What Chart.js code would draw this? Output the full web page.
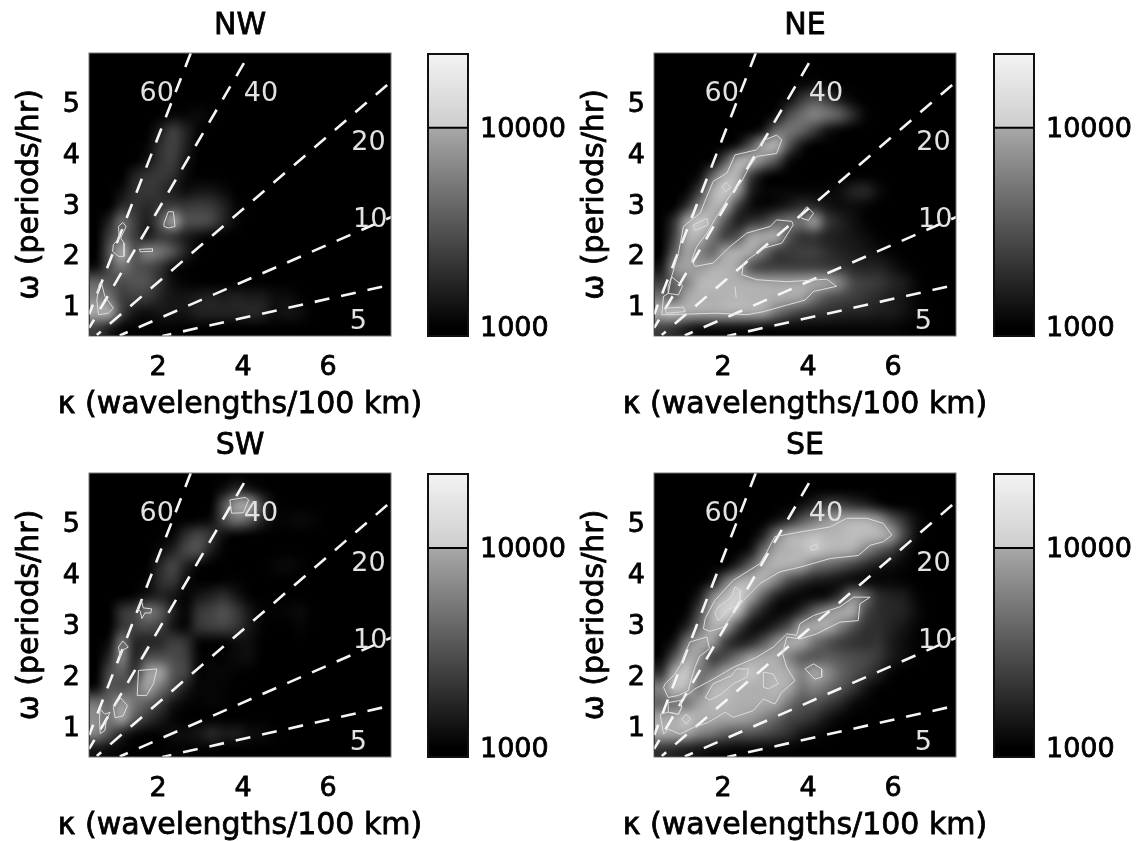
<!DOCTYPE html>
<html><head><meta charset="utf-8">
<script src="https://cdn.jsdelivr.net/npm/chart.js@4"></script>
<style>
html,body{margin:0;padding:0;background:#fff;overflow:hidden;width:1136px;height:841px}
canvas{position:absolute;filter:blur(0.55px)}
</style></head><body>
<canvas id="pNW" width="420" height="420" style="left:0;top:0"></canvas>
<canvas id="cNW" width="150" height="420" style="left:420px;top:0"></canvas>
<canvas id="pNE" width="420" height="420" style="left:565px;top:0"></canvas>
<canvas id="cNE" width="150" height="420" style="left:986px;top:0"></canvas>
<canvas id="pSW" width="420" height="421" style="left:0;top:420px"></canvas>
<canvas id="cSW" width="150" height="421" style="left:420px;top:420px"></canvas>
<canvas id="pSE" width="420" height="421" style="left:565px;top:420px"></canvas>
<canvas id="cSE" width="150" height="421" style="left:986px;top:420px"></canvas>
<script>
const kappaTicks=[2,4,6];
const omegaTicks=[1,2,3,4,5];
const kappaRange=[0.376,7.48];
const omegaRange=[0.39,5.97];
const colorTicks=[1000,10000];
const colorRange=[900,23500];
const xTitle='κ (wavelengths/100 km)';
const yTitle='ω (periods/hr)';
const raySpeeds=['60','40','20','10','5'];
const rayUpper=[[2.77,5.97],[4.02,5.77],[7.39,5.34],[7.69,2.81],[7.27,1.36]];
const rayLower=[[0.38,0.82],[0.38,0.55],[0.56,0.41],[1.1,0.4],[2.1,0.39]];
const rayLabelPos=[[1.97,5.17],[4.42,5.17],[6.95,4.19],[6.99,2.67],[6.71,0.67]];
/* grid: rows top (omega 5.95) to bottom (omega 0.55), columns kappa 0.55 ... 7.45, values in hundreds */
const gridKappaLeft=0.4, gridOmegaTop=6.1, gridCell=0.3;
const nwValues=[
[10,10,10,10,10,10,10,10,10,10,10,10,10,10,10,10,10,10,10,10,10,10,10,10],
[10,10,10,10,10,10,10,10,10,10,10,10,10,10,10,10,10,10,10,10,10,10,10,10],
[10,10,10,10,10,10,10,10,10,10,10,10,10,10,10,10,10,10,10,10,10,10,10,10],
[10,10,10,10,10,10,10,10,10,10,10,10,10,10,10,10,10,10,10,10,10,10,10,10],
[10,10,10,10,10,10,12,12,13,11,10,10,10,10,10,10,10,10,10,10,10,10,10,10],
[10,10,10,10,10,18,30,20,12,10,10,10,10,10,10,10,10,10,10,10,10,10,10,10],
[10,10,10,10,12,24,32,20,10,10,10,10,10,10,10,10,10,10,10,10,10,10,10,10],
[10,10,10,10,15,26,30,16,10,10,10,10,10,10,10,10,10,10,10,10,10,10,10,10],
[10,10,10,20,26,28,24,13,10,10,10,10,10,10,10,10,10,10,10,10,10,10,10,10],
[10,10,14,24,28,24,18,14,16,16,13,10,10,10,10,10,10,10,10,10,10,10,10,10],
[10,10,22,26,22,26,30,28,30,28,20,12,10,10,10,10,10,10,10,10,10,10,10,10],
[10,20,55,30,18,40,100,40,38,34,20,12,10,10,10,10,10,10,10,10,10,10,10,10],
[10,30,50,30,18,28,26,18,14,11,10,10,10,10,10,10,10,10,10,10,10,10,10,10],
[10,40,110,40,70,60,40,20,11,10,10,10,10,10,10,10,10,10,10,10,10,10,10,10],
[14,35,60,40,35,26,14,11,10,10,10,10,10,10,10,10,10,10,10,10,10,10,10,10],
[50,40,35,40,38,24,14,11,10,10,10,10,10,10,10,10,10,10,10,10,10,10,10,10],
[70,60,30,30,28,20,16,16,18,20,18,20,18,18,14,14,11,10,10,10,10,10,10,10],
[110,110,30,16,14,16,16,16,20,20,20,20,22,20,14,16,14,10,10,10,10,10,10,10],
[30,18,12,11,11,11,11,10,10,10,10,10,10,10,10,10,10,10,10,10,10,10,10,10]];
const neValues=[
[10,10,10,10,10,10,10,10,10,10,10,10,10,10,10,10,10,10,10,10,10,10,10,10],
[10,10,10,10,10,10,10,10,10,10,10,10,10,10,10,10,10,10,10,10,10,10,10,10],
[10,10,10,10,10,10,10,10,10,10,10,12,13,11,10,10,10,10,10,10,10,10,10,10],
[10,10,10,10,10,10,10,10,10,10,14,28,40,30,18,12,10,10,10,10,10,10,10,10],
[10,10,10,10,10,10,10,10,10,14,36,55,70,60,45,24,12,10,10,10,10,10,10,10],
[10,10,10,10,10,10,10,10,16,50,60,50,30,16,12,10,10,10,10,10,10,10,10,10],
[10,10,10,10,10,10,16,40,100,120,40,16,10,10,10,10,10,10,10,10,10,10,10,10],
[10,10,10,10,12,40,115,115,70,40,14,10,10,10,10,10,10,10,10,10,10,10,10,10],
[10,10,10,14,50,115,120,30,14,10,10,10,10,10,10,10,10,10,10,10,10,10,10,10],
[10,10,12,30,110,150,90,20,12,12,12,12,12,12,14,20,22,14,10,10,10,10,10,10],
[10,10,25,70,120,100,30,14,12,14,18,24,22,16,14,14,12,10,10,10,10,10,10,10],
[10,25,100,150,110,40,18,24,30,50,60,60,90,30,20,15,11,10,10,10,10,10,10,10],
[10,30,110,120,60,30,40,100,110,110,40,26,26,20,18,16,14,11,10,10,10,10,10,10],
[10,45,100,70,50,100,115,110,60,30,28,30,30,24,20,18,16,14,11,10,10,10,10,10],
[16,80,100,90,110,120,100,40,30,30,30,30,30,28,26,22,20,20,16,12,10,10,10,10],
[30,50,70,120,130,120,115,110,105,100,100,105,105,100,70,35,30,28,22,18,12,10,10,10],
[60,50,105,120,115,120,125,120,120,115,110,100,60,40,34,30,26,22,18,16,12,10,10,10],
[120,140,110,105,105,110,110,110,100,60,40,30,26,24,22,20,20,18,18,15,12,11,10,10],
[30,25,18,14,14,14,14,13,12,12,12,12,12,12,12,12,12,12,12,11,10,10,10,10]];
const swValues=[
[10,10,10,10,10,10,10,10,10,10,10,10,10,10,10,10,10,10,10,10,10,10,10,10],
[10,10,10,10,10,10,10,10,10,10,14,22,16,12,10,10,10,10,10,10,10,10,10,10],
[10,10,10,10,10,10,10,10,10,10,40,95,100,30,12,10,10,10,10,10,10,10,10,10],
[10,10,10,10,10,10,10,10,11,14,36,60,45,20,12,12,13,12,10,10,10,10,10,10],
[10,10,10,10,10,10,12,24,34,26,14,11,10,10,10,10,10,10,10,10,10,10,10,10],
[10,10,10,10,10,13,20,34,38,18,11,10,10,10,10,10,10,10,10,10,10,10,10,10],
[10,10,10,10,10,22,34,20,12,10,10,10,10,10,12,13,11,10,10,10,10,10,10,10],
[10,10,10,10,12,24,28,14,10,10,11,11,10,10,10,10,10,10,10,10,10,10,10,10],
[10,10,10,12,16,20,16,11,16,20,24,16,11,10,10,10,10,10,10,10,10,10,10,10],
[10,10,26,32,60,45,20,12,26,32,38,28,16,11,11,12,13,10,10,10,10,10,10,10],
[10,10,26,32,36,30,16,12,26,30,32,26,16,11,10,10,12,10,10,10,10,10,10,10],
[10,14,60,22,20,22,30,26,12,11,11,14,14,10,10,10,10,10,10,10,10,10,10,10],
[10,22,70,20,36,38,36,30,12,11,11,13,14,10,10,10,10,10,10,10,10,10,10,10],
[10,35,45,26,90,100,42,32,12,12,12,11,10,10,10,10,10,10,10,10,10,10,10,10],
[14,40,36,50,100,60,34,18,12,12,11,10,10,10,10,10,10,10,10,10,10,10,10,10],
[60,50,90,60,45,30,16,12,11,12,11,10,10,10,10,10,10,10,10,10,10,10,10,10],
[80,60,100,42,26,18,12,10,10,10,10,10,10,10,10,10,10,10,10,10,10,10,10,10],
[70,40,20,13,11,11,14,14,16,22,18,18,14,13,11,10,10,10,10,10,10,10,10,10],
[16,13,11,10,10,10,11,11,11,11,10,10,10,10,10,10,10,10,10,10,10,10,10,10]];
const seValues=[
[10,10,10,10,10,10,10,10,10,10,10,10,10,10,10,10,10,10,10,10,10,10,10,10],
[10,10,10,10,10,10,10,10,10,10,10,10,10,10,10,10,10,10,10,10,10,10,10,10],
[10,10,10,10,10,10,10,10,10,10,10,14,20,30,30,24,20,14,10,10,10,10,10,10],
[10,10,10,10,10,10,10,10,10,14,22,40,60,85,105,115,115,90,45,25,14,10,10,10],
[10,10,10,10,10,10,10,10,20,65,110,120,135,125,125,135,130,125,95,35,14,10,10,10],
[10,10,10,10,10,10,10,16,55,105,120,130,150,125,120,110,70,45,30,16,10,10,10,10],
[10,10,10,10,10,10,22,50,100,120,115,100,60,50,40,30,22,16,14,12,10,10,10,10],
[10,10,10,10,16,55,105,125,115,70,35,24,18,16,14,13,12,12,12,11,10,10,10,10],
[10,10,10,18,70,125,170,105,45,20,13,12,12,14,26,70,50,24,20,18,12,10,10,10],
[10,10,12,35,115,170,130,40,18,12,14,24,50,80,105,110,35,24,22,20,14,10,10,10],
[10,10,20,55,115,100,35,15,14,22,40,100,110,115,70,40,26,24,20,16,12,10,10,10],
[10,16,60,105,95,30,18,22,40,80,110,105,60,40,30,26,24,26,18,14,11,10,10,10],
[12,40,105,90,30,35,60,95,110,110,70,45,40,45,40,36,34,28,18,14,11,10,10,10],
[25,110,150,60,60,100,125,145,115,120,110,70,105,80,50,38,30,20,12,10,10,10,10,10],
[70,140,120,60,120,130,120,115,115,125,105,60,70,55,40,28,16,11,10,10,10,10,10,10],
[50,60,60,100,125,125,115,115,110,100,60,40,40,30,22,14,11,10,10,10,10,10,10,10],
[105,110,140,115,110,105,100,90,70,50,34,30,24,16,12,10,10,10,10,10,10,10,10,10],
[110,105,100,70,60,45,40,40,35,30,24,16,13,11,10,10,10,10,10,10,10,10,10,10],
[25,22,18,16,14,13,12,12,12,11,11,10,10,10,10,10,10,10,10,10,10,10,10,10]];
const nwContours=[
[[.62,1.43],[.67,1.43],[.75,1.17],[.95,.94],[.83,.84],[.60,.81],[.56,1.10]],
[[1.07,2.55],[1.17,2.63],[1.25,2.55],[1.12,2.32],[1.20,2.22],[1.20,1.96],[1.07,1.96],[.93,2.06],[.95,2.19],[1.09,2.32]],
[[2.14,2.61],[2.24,2.84],[2.36,2.84],[2.40,2.55],[2.24,2.52],[2.14,2.55]],
[[1.56,2.10],[1.87,2.11],[1.87,2.06],[1.58,2.05]]];
const neContours=[
[[.79,1.56],[.95,2.02],[1.07,2.55],[1.46,2.81],[1.62,3.14],[1.77,3.44],[2.09,3.60],[2.28,3.96],[2.79,4.06],[2.99,4.26],[3.26,4.35],[3.38,4.26],[3.26,3.99],[2.79,3.93],[2.60,3.70],[2.44,3.44],[2.20,3.21],[1.85,2.75],[1.62,2.42],[1.38,2.15],[1.26,1.89],[1.34,1.76],[1.77,1.83],[2.16,2.15],[2.56,2.42],[3.11,2.55],[3.26,2.68],[3.62,2.65],[3.65,2.58],[3.38,2.22],[2.95,2.12],[2.48,1.83],[2.44,1.60],[2.79,1.50],[3.50,1.46],[4.44,1.51],[4.67,1.37],[4.13,1.27],[3.93,1.10],[3.50,1.00],[2.95,.87],[2.56,.81],[1.85,.84],[.67,.81],[.56,.81],[.60,1.17],[.71,1.23],[.71,1.37]],
[[.79,1.56],[1.05,1.38],[.95,1.20],[.71,1.23]],
[[1.30,2.58],[1.62,2.71],[1.65,2.58],[1.34,2.47]],
[[1.97,3.32],[2.07,3.42],[2.18,3.32],[2.07,3.24]],
[[3.81,2.78],[3.97,2.94],[4.13,2.81],[4.01,2.67],[3.85,2.71]],
[[.64,.94],[1.07,.96],[1.11,.87],[.66,.84]],
[[2.28,1.37],[2.31,1.14]]];
const swContours=[
[[.64,1.33],[.75,1.23],[.87,1.27],[.78,1.10],[.75,.91],[.64,.85],[.62,1.14]],
[[.95,1.37],[1.12,1.55],[1.28,1.40],[1.18,1.20],[.99,1.16]],
[[1.51,1.60],[1.54,2.09],[1.97,2.12],[1.89,1.83],[1.73,1.60]],
[[1.07,2.55],[1.17,2.67],[1.30,2.55],[1.15,2.48],[1.11,2.35]],
[[1.51,3.30],[1.61,3.47],[1.65,3.32],[1.85,3.30],[1.83,3.22],[1.69,3.22],[1.62,3.11],[1.58,3.26]],
[[3.69,5.44],[4.05,5.49],[4.13,5.44],[4.01,5.19],[3.73,5.18]]];
const seContours=[
[[1.54,2.91],[1.58,3.11],[1.81,3.47],[2.24,3.86],[2.87,4.19],[3.03,4.42],[3.22,4.72],[3.81,4.81],[4.52,4.91],[4.91,5.08],[5.38,5.08],[5.77,4.98],[5.97,4.75],[5.77,4.62],[5.46,4.55],[5.18,4.35],[4.52,4.29],[3.81,4.12],[3.34,4.03],[2.87,3.80],[2.48,3.47],[2.24,3.21],[2.01,2.94],[1.69,2.86]],
[[.64,1.83],[.87,2.02],[.99,2.19],[1.22,2.65],[1.62,2.75],[1.68,2.52],[1.44,2.36],[1.34,2.15],[1.22,1.83],[1.18,1.69],[.95,1.60],[.71,1.56],[.60,1.76]],
[[1.34,1.73],[1.77,1.92],[2.24,2.15],[2.79,2.35],[3.18,2.55],[3.50,2.81],[3.73,2.78],[3.81,3.01],[4.13,3.17],[4.75,3.34],[5.07,3.53],[5.46,3.53],[5.22,3.40],[5.18,3.07],[4.75,3.04],[4.20,2.81],[3.81,2.71],[3.50,2.75],[3.40,2.42],[3.50,2.15],[3.69,1.89],[3.38,1.66],[3.22,1.43],[2.95,1.53],[2.71,1.30],[2.24,1.17],[2.05,1.27],[1.65,1.07],[1.30,.97],[.99,.84],[.71,.94],[.60,.84],[.52,1.23],[.71,1.27],[.95,1.23],[1.03,1.37],[.99,1.50]],
[[.71,1.46],[.99,1.50],[1.03,1.37],[.95,1.23],[.71,1.27]],
[[1.58,1.56],[1.77,1.83],[2.20,1.99],[2.32,2.12],[2.60,2.12],[2.56,1.96],[2.24,1.83],[1.97,1.63],[1.69,1.51]],
[[1.81,3.21],[1.89,3.34],[2.20,3.53],[2.28,3.73],[2.40,3.66],[2.40,3.40],[2.09,3.27],[1.89,3.07]],
[[2.95,2.06],[3.18,2.02],[3.30,1.83],[3.07,1.73],[2.95,1.76]],
[[3.93,2.12],[4.13,2.22],[4.32,2.12],[4.32,1.96],[4.16,1.92]],
[[1.03,1.14],[1.13,1.23],[1.24,1.14],[1.13,1.04]],
[[4.05,4.52],[4.20,4.57],[4.24,4.49],[4.09,4.45]]];

const FONT='"DejaVu Sans"';
function grayOf(hundreds){
  const t=Math.max(0,(Math.log10(hundreds*100)-3)/(Math.log10(23500)-3));
  return Math.min(245,Math.round(245*Math.pow(t,1.3)));
}
const heatPlugin={id:'heat',beforeDatasetsDraw(chart,args,opts){
  const {ctx,chartArea:a,scales:{x,y}}=chart, g=opts.grid, rows=g.length, cols=g[0].length;
  ctx.save();ctx.fillStyle='#000';ctx.fillRect(a.left,a.top,a.width,a.height);
  const off=document.createElement('canvas');off.width=cols;off.height=rows;
  const oc=off.getContext('2d'),im=oc.createImageData(cols,rows);
  for(let r=0;r<rows;r++)for(let c=0;c<cols;c++){const v=grayOf(g[r][c]),i=(r*cols+c)*4;
    im.data[i]=im.data[i+1]=im.data[i+2]=v;im.data[i+3]=255;}
  oc.putImageData(im,0,0);
  ctx.beginPath();ctx.rect(a.left,a.top,a.width,a.height);ctx.clip();
  ctx.imageSmoothingEnabled=true;ctx.imageSmoothingQuality='high';
  const x0=x.getPixelForValue(gridKappaLeft),x1=x.getPixelForValue(gridKappaLeft+cols*gridCell);
  const y0=y.getPixelForValue(gridOmegaTop),y1=y.getPixelForValue(gridOmegaTop-rows*gridCell);
  ctx.drawImage(off,x0,y0,x1-x0,y1-y0);
  ctx.restore();
},afterDatasetsDraw(chart){
  const {ctx,chartArea:a,scales:{x,y}}=chart;
  ctx.save();ctx.fillStyle='#e2e2e2';ctx.font='27px '+FONT;ctx.textAlign='center';ctx.textBaseline='middle';
  raySpeeds.forEach((s,i)=>ctx.fillText(s,x.getPixelForValue(rayLabelPos[i][0]),y.getPixelForValue(rayLabelPos[i][1])));
  ctx.strokeStyle='#777';ctx.lineWidth=1;ctx.strokeRect(a.left,a.top,a.width,a.height);
  ctx.restore();
},afterDraw(chart){
  const {ctx,chartArea:a}=chart;
  ctx.save();ctx.fillStyle='#000';ctx.strokeStyle='#000';ctx.lineWidth=0.8;ctx.textAlign='center';
  ctx.font='30px '+FONT;
  const cx=(a.left+a.right)/2;
  ctx.textBaseline='middle';
  ctx.strokeText(chart.options.plugins.title.text,cx,26);
  ctx.textBaseline='alphabetic';
  ctx.fillText(xTitle,cx,a.bottom+77);ctx.strokeText(xTitle,cx,a.bottom+77);
  ctx.translate(38,(a.top+a.bottom)/2);ctx.rotate(-Math.PI/2);
  ctx.fillText(yTitle,0,0);ctx.strokeText(yTitle,0,0);
  ctx.restore();
}};
function panel(id,name,grid,contours){
  const pts=a=>a.map(p=>({x:p[0],y:p[1]}));
  const datasets=[];
  contours.forEach(c=>datasets.push({data:pts(c.length>2?c.concat([c[0]]):c),showLine:true,pointRadius:0,borderColor:'#dcdcdc',borderWidth:1,tension:0}));
  raySpeeds.forEach((s,i)=>datasets.push({data:pts([rayUpper[i],rayLower[i]]),showLine:true,pointRadius:0,borderColor:'#f6f6f6',borderWidth:2.6,borderDash:[15,12]}));
  new Chart(document.getElementById(id),{type:'scatter',data:{datasets},plugins:[heatPlugin],options:{
    responsive:false,animation:false,layout:{padding:{right:29}},
    plugins:{legend:{display:false},tooltip:{enabled:false},heat:{grid},
      title:{display:true,text:name,fullSize:false,color:'#000',font:{family:FONT,size:30,weight:'normal'},padding:{top:8,bottom:9}}},
    scales:{
      x:{type:'linear',min:kappaRange[0],max:kappaRange[1],afterBuildTicks(s){s.ticks=kappaTicks.map(v=>({value:v}))},afterFit(s){s.height=84},
        grid:{display:false,drawTicks:false},border:{display:false},
        ticks:{color:'#000',textStrokeColor:'#000',textStrokeWidth:0.8,font:{family:FONT,size:27},padding:16,maxRotation:0,callback:v=>String(v)}},
      y:{type:'linear',min:omegaRange[0],max:omegaRange[1],afterBuildTicks(s){s.ticks=omegaTicks.map(v=>({value:v}))},afterFit(s){s.width=89},
        grid:{display:false,drawTicks:false},border:{display:false},
        ticks:{color:'#000',textStrokeColor:'#000',textStrokeWidth:0.8,font:{family:FONT,size:27},padding:9,labelOffset:3,callback:v=>String(v)}}
    }}});
}
const barPlugin={id:'bar',beforeDatasetsDraw(chart){
  const {ctx,chartArea:a,scales:{y}}=chart;
  ctx.save();
  for(let px=Math.floor(a.top);px<a.bottom;px++){
    const v=y.getValueForPixel(px+.5), lv=Math.log10(v);
    let g;
    if(v<colorTicks[1]) g=Math.max(0,168*(lv-3));
    else g=205+38*(lv-4)/(Math.log10(colorRange[1])-4);
    g=Math.round(g);
    ctx.fillStyle='rgb('+g+','+g+','+g+')';ctx.fillRect(a.left,px,a.width,1);
  }
  ctx.restore();
},afterDatasetsDraw(chart){
  const {ctx,chartArea:a}=chart;
  ctx.save();ctx.strokeStyle='#111';ctx.lineWidth=2;ctx.strokeRect(a.left,a.top,a.width,a.height);ctx.restore();
}};
function colorbar(id){
  new Chart(document.getElementById(id),{type:'scatter',
    data:{datasets:[{data:[{x:0,y:colorTicks[1]},{x:1,y:colorTicks[1]}],showLine:true,pointRadius:0,borderColor:'#000',borderWidth:2}]},
    plugins:[barPlugin],options:{responsive:false,animation:false,
    layout:{padding:{top:54,bottom:84,left:8}},plugins:{legend:{display:false},tooltip:{enabled:false}},
    scales:{x:{type:'linear',min:0,max:1,display:false},
      y:{type:'logarithmic',position:'right',min:colorRange[0],max:colorRange[1],
        afterBuildTicks(s){s.ticks=colorTicks.map(v=>({value:v}))},afterFit(s){s.width=102},
        grid:{display:false,drawTicks:false},border:{display:false},
        ticks:{color:'#000',textStrokeColor:'#000',textStrokeWidth:0.8,font:{family:FONT,size:27},padding:12,labelOffset:2,autoSkip:false,callback:v=>String(v)}}}}});
}
panel('pNW','NW',nwValues,nwContours);
panel('pNE','NE',neValues,neContours);
panel('pSW','SW',swValues,swContours);
panel('pSE','SE',seValues,seContours);
['cNW','cNE','cSW','cSE'].forEach(colorbar);
</script>
</body></html>
